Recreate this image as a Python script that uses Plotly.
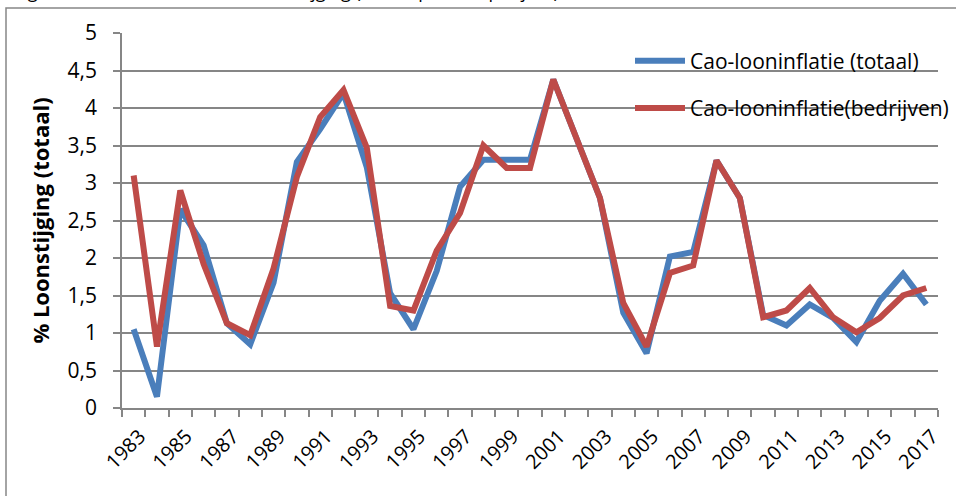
import plotly.graph_objects as go

years = list(range(1983, 2018))
totaal = [1.05, 0.15, 2.65, 2.17, 1.13, 0.85, 1.67, 3.28, 3.72, 4.2, 3.21, 1.53, 1.05,
          1.83, 2.95, 3.31, 3.31, 3.31, 4.38, 3.6, 2.8, 1.27, 0.73, 2.02, 2.08, 3.3,
          2.8, 1.24, 1.1, 1.38, 1.2, 0.88, 1.43, 1.79, 1.38]
bedrijven = [3.1, 0.82, 2.9, 1.92, 1.13, 0.97, 1.86, 3.08, 3.88, 4.24, 3.47, 1.36, 1.3,
             2.1, 2.6, 3.5, 3.2, 3.2, 4.38, 3.6, 2.8, 1.4, 0.82, 1.8, 1.9, 3.3,
             2.8, 1.21, 1.3, 1.6, 1.21, 1.01, 1.2, 1.5, 1.6]
tick_years = list(range(1983, 2018, 2))
y_ticks = [0, 0.5, 1, 1.5, 2, 2.5, 3, 3.5, 4, 4.5, 5]

FONT = "Open Sans"
GRID = "#868686"
PW = 956 - 122  # paper width in px (margin r = 0)

fig = go.Figure()
fig.add_trace(go.Scatter(x=years, y=totaal, mode="lines", name="Cao-looninflatie (totaal)",
                         line=dict(color="#4A7EBB", width=6), legendgroup="a"))
fig.add_trace(go.Scatter(x=years, y=bedrijven, mode="lines", name="Cao-looninflatie(bedrijven)",
                         line=dict(color="#BE4B48", width=6), legendgroup="b"))

fig.update_layout(
    width=956, height=496,
    margin=dict(l=122, r=0, t=33, b=88),
    plot_bgcolor="rgba(0,0,0,0)", paper_bgcolor="white",
    font=dict(family=FONT, size=18, color="black"),
    separators=",.",
    showlegend=True,
    legend=dict(x=(630 - 122) / PW, y=0.98, xanchor="left", yanchor="top",
                bgcolor="rgba(0,0,0,0)", font=dict(family=FONT, size=21),
                tracegroupgap=17, itemwidth=50),
    xaxis=dict(
        domain=[0, 816 / PW],
        range=[1982.5, 2017.5], tickmode="array", tickvals=tick_years,
        ticktext=[str(y) for y in tick_years], tickangle=-45, ticks="",
        showgrid=False, showline=True, linecolor=GRID, linewidth=1.5,
        tickfont=dict(family=FONT, size=20), automargin=False,
        ticklabelstandoff=7, ticklabelshift=6,
        minor=dict(tick0=1982.5, dtick=1, ticks="outside", ticklen=7,
                   tickcolor=GRID, tickwidth=1.5, showgrid=False),
    ),
    yaxis=dict(
        range=[0, 5], tickmode="array", tickvals=y_ticks, ticks="outside",
        ticklen=7, tickcolor=GRID, tickwidth=1.5, automargin=False,
        ticklabelstandoff=12,
        showgrid=True, gridcolor=GRID, gridwidth=1.5, zeroline=False,
        showline=True, linecolor=GRID, linewidth=1.5,
        tickfont=dict(family=FONT, size=21),
        title=dict(text="<b>% Loonstijging (totaal)</b>", font=dict(family=FONT, size=22),
                   standoff=12),
    ),
)

# chart-area border (extends beyond window to the right and bottom)
fig.add_shape(type="rect", xref="paper", yref="paper",
              x0=(6 - 122) / PW, x1=1.1, y0=-0.4, y1=(408 - 8) / 375,
              line=dict(color=GRID, width=1.5), layer="below")

# title cut off at the top of the picture
fig.add_annotation(text="Figuur 1: Cao-looninflatie en loonstijging (totaal, procent per jaar)",
                   xref="paper", yref="paper", x=(12 - 122) / PW, y=(408 - 5) / 375,
                   xanchor="left", yanchor="bottom", showarrow=False,
                   font=dict(family=FONT, size=18, color="black"))

fig.write_html("out.html", config={"displayModeBar": False},
               post_script="document.body.style.margin='0';")
